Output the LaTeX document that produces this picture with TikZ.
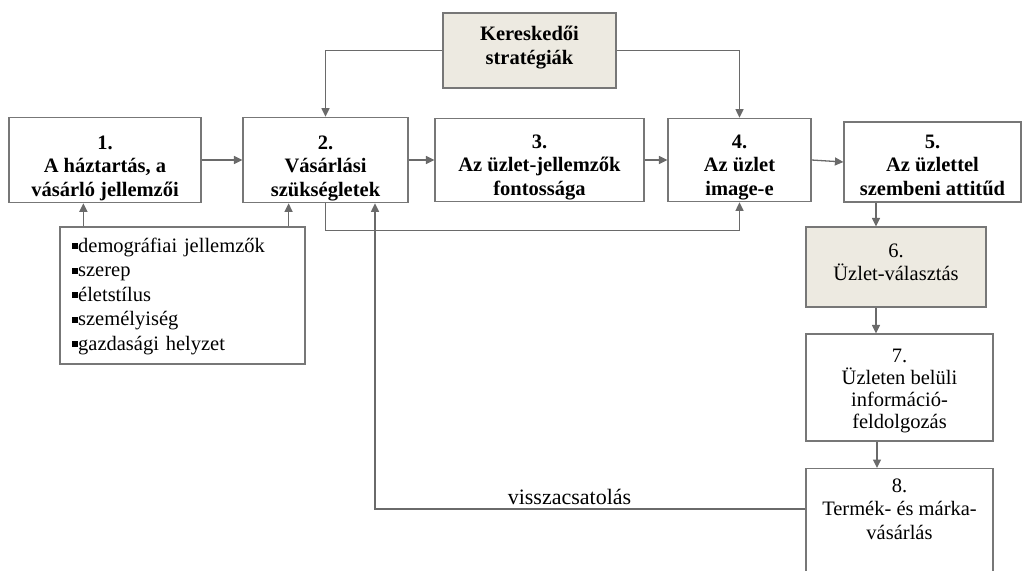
\documentclass[tikz,border=0pt]{standalone}
\usepackage{fontspec}
\setmainfont{Liberation Serif}
\usetikzlibrary{arrows.meta}

\definecolor{linegray}{HTML}{6A6A6A}
\definecolor{boxgray}{HTML}{777777}
\definecolor{beige}{HTML}{EDEAE1}

% small square bullet for the list
\newcommand{\sqbullet}{\rule[0.15em]{0.3em}{0.3em}}
% invisible struts that push a text block down (taller first line) or up (deeper last line)
\newcommand{\padtop}[1]{\rule{0pt}{#1}}
\newcommand{\padbot}[1]{\rule[-#1]{0pt}{#1}}

\tikzset{
  box/.style={draw=boxgray, line width=1.2pt, align=center, inner sep=2pt,
    font=\fontsize{20.5}{23.5}\selectfont},
  boldbox/.style={box, font=\fontsize{20.5}{23.5}\selectfont\bfseries},
  shaded/.style={fill=beige},
  conn/.style={draw=linegray, line width=1.3pt},
  arr/.style={conn, -{Triangle[length=8.5pt,width=8pt]}},
  plain/.style={inner sep=0pt, font=\fontsize{20.5}{23.5}\selectfont}
}

\begin{document}
\begin{tikzpicture}[x=1pt, y=-1pt]
  \useasboundingbox (0,0) rectangle (1022,570);

  % strategy box on top
  \node[boldbox, shaded, minimum width=173pt, minimum height=75pt] (k) at (529.5,50.5)
    {Kereskedői\\stratégiák\padbot{10.5pt}};

  % main row
  \node[boldbox, minimum width=192pt, minimum height=80pt] (b1) at (105,160)
    {\padtop{30pt}1.\\A háztartás, a\\vásárló jellemzői};
  \node[boldbox, minimum width=165pt, minimum height=80pt] (b2) at (325.5,160)
    {\padtop{30pt}2.\\Vásárlási\\szükségletek};
  \node[boldbox, minimum width=209pt, minimum height=80pt] (b3) at (539.5,160)
    {\padtop{28pt}3.\\Az üzlet-jellemzők\\fontossága};
  \node[boldbox, minimum width=143pt, minimum height=80pt] (b4) at (739.5,160)
    {\padtop{28pt}4.\\Az üzlet\\image-e};
  \node[boldbox, minimum width=177pt, minimum height=80pt] (b5) at (932.5,162)
    {\padtop{20pt}5.\\Az üzlettel\\szembeni attitűd};

  % household characteristics list
  \node[box, align=left, text width=221pt, inner xsep=12pt, minimum height=137pt,
        font=\fontsize{20.5}{24.5}\selectfont] (lst) at (182.5,295.5)
    {\padtop{16pt}\sqbullet demográfiai jellemzők\\\sqbullet szerep\\\sqbullet életstílus\\
     \sqbullet személyiség\\\sqbullet gazdasági helyzet};

  % right column
  \node[box, shaded, minimum width=180pt, minimum height=80pt] (b6) at (896,267)
    {6.\\Üzlet-választás\padbot{10pt}};
  \node[box, minimum width=187pt, minimum height=107pt,
        font=\fontsize{20.5}{22}\selectfont] (b7) at (899.5,387.5)
    {\padtop{20pt}7.\\Üzleten belüli\\információ-\\feldolgozás};
  \node[box, minimum width=187pt, minimum height=120pt, anchor=north] (b8) at (899.5,468) {};
  \node[plain, align=center] (b8t) at (899.5,509) {8.\\Termék- és márka-\\vásárlás};

  % connectors
  \draw[arr] (k.west) -| (b2.north);
  \draw[arr] (k.east) -| (b4.north);
  \draw[arr] (b1) -- (b2);
  \draw[arr] (b2) -- (b3);
  \draw[arr] (b3) -- (b4);
  \draw[arr] (b4.east) -- (b5.west);
  \draw[arr] ([xshift=24pt]lst.north west) -- ([xshift=24pt]lst.north west |- b1.south);
  \draw[arr] ([xshift=-17pt]lst.north east) -- ([xshift=-17pt]lst.north east |- b2.south);
  \draw[arr] (b2.south) -- ++(0,27) -| (b4.south);
  \draw[arr] ([xshift=-20pt]b6.north |- b5.south) -- ([xshift=-20pt]b6.north);
  \draw[arr] ([xshift=-20pt]b6.south) -- ([xshift=-20pt]b6.south |- b7.north);
  \draw[arr] ([xshift=-22.5pt]b7.south) -- ([xshift=-22.5pt]b7.south |- b8.north);

  % feedback loop
  \draw[arr] (b8t -| b8.west) -| ([xshift=49.5pt]b2.south);
  \node[plain, anchor=base, font=\fontsize{22}{24}\selectfont] (fbl) at (569.5,504.5) {visszacsatolás};
\end{tikzpicture}
\end{document}
